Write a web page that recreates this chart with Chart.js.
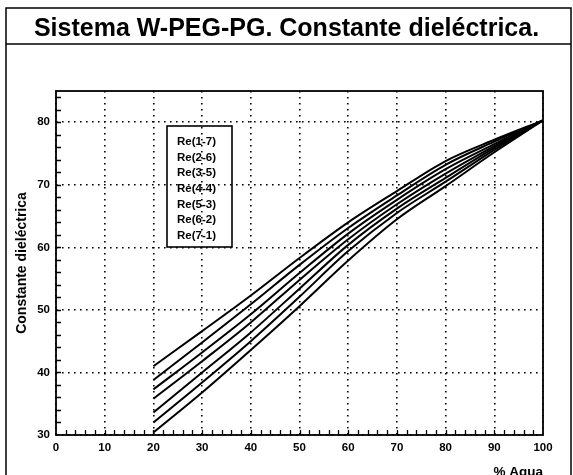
<!DOCTYPE html>
<html>
<head>
<meta charset="utf-8">
<script src="https://cdn.jsdelivr.net/npm/chart.js@4.4.1/dist/chart.umd.min.js"></script>
<style>
  html, body { margin: 0; padding: 0; background: #fff; overflow: hidden; }
</style>
</head>
<body>
<canvas id="chart" width="573" height="475"></canvas>
<script>
// % agua on the x axis
const waterPct = [20, 30, 40, 50, 60, 70, 80, 90, 100];

const seriesNames = ['Re(1-7)', 'Re(2-6)', 'Re(3-5)', 'Re(4-4)', 'Re(5-3)', 'Re(6-2)', 'Re(7-1)'];

// constante dieléctrica
const re17 = [41.0, 46.6, 52.3, 58.3, 64.0, 69.0, 73.8, 77.2, 80.3];
const re26 = [38.8, 44.8, 50.9, 57.2, 63.1, 68.3, 73.2, 76.9, 80.3];
const re35 = [37.3, 43.2, 49.3, 55.9, 62.2, 67.6, 72.5, 76.5, 80.3];
const re44 = [35.8, 41.8, 48.0, 54.8, 61.3, 66.9, 71.8, 76.2, 80.3];
const re53 = [33.6, 40.0, 46.4, 53.4, 60.4, 66.2, 71.1, 75.9, 80.3];
const re62 = [32.0, 38.4, 45.0, 52.1, 59.4, 65.5, 70.5, 75.6, 80.3];
const re71 = [30.4, 36.8, 43.6, 50.6, 57.9, 64.5, 69.8, 75.2, 80.3];

const seriesValues = [re17, re26, re35, re44, re53, re62, re71];

const xTicks = [0, 10, 20, 30, 40, 50, 60, 70, 80, 90, 100];
const yTicks = [30, 40, 50, 60, 70, 80];

const FONT = "'Liberation Sans', Arial, sans-serif";

// outer frame, header line, plot box and the little inward ticks
const framePlugin = {
  id: 'frame',
  beforeDraw(chart) {
    const ctx = chart.ctx;
    ctx.save();
    ctx.fillStyle = '#fff';
    ctx.fillRect(0, 0, chart.width, chart.height);
    ctx.strokeStyle = '#000';
    ctx.lineWidth = 1.5;
    ctx.strokeRect(6, 8, 565, 480);
    ctx.beginPath();
    ctx.moveTo(6, 44);
    ctx.lineTo(571, 44);
    ctx.stroke();
    ctx.restore();
  },
  afterDraw(chart) {
    const ctx = chart.ctx;
    const a = chart.chartArea;
    const xs = chart.scales.x;
    const ys = chart.scales.y;
    ctx.save();
    ctx.strokeStyle = '#000';
    ctx.lineWidth = 1.8;
    ctx.strokeRect(a.left, a.top, a.right - a.left, a.bottom - a.top);
    ctx.lineWidth = 1.3;
    ctx.beginPath();
    for (let v = 32; v <= 84; v += 2) {
      const y = Math.round(ys.getPixelForValue(v)) + 0.5;
      ctx.moveTo(a.left, y);
      ctx.lineTo(a.left + 5, y);
    }
    for (let v = 2; v < 100; v += 2) {
      const x = Math.round(xs.getPixelForValue(v)) + 0.5;
      ctx.moveTo(x, a.bottom);
      ctx.lineTo(x, a.bottom - 5);
    }
    ctx.stroke();
    ctx.restore();
  }
};

// boxed legend inside the plot, text only
const boxLegendPlugin = {
  id: 'boxLegend',
  afterDatasetsDraw(chart) {
    const ctx = chart.ctx;
    const names = chart.data.datasets.map((d) => d.label);
    ctx.save();
    ctx.strokeStyle = '#000';
    ctx.lineWidth = 1.6;
    ctx.strokeRect(167, 126, 65, 121);
    ctx.fillStyle = '#000';
    ctx.font = 'bold 11.5px ' + FONT;
    ctx.textBaseline = 'middle';
    ctx.textAlign = 'left';
    names.forEach((name, i) => {
      ctx.fillText(name, 177, 142 + i * 15.6);
    });
    ctx.restore();
  }
};

const data = {
  labels: waterPct,
  datasets: seriesNames.map((name, i) => ({
    label: name,
    data: waterPct.map((x, j) => ({ x: x, y: seriesValues[i][j] })),
    borderColor: '#000',
    borderWidth: 2,
    pointRadius: 0,
    fill: false,
    cubicInterpolationMode: 'monotone'
  }))
};

const gridOpts = {
  color: '#000',
  lineWidth: 1.6,
  drawTicks: false
};

const options = {
  responsive: false,
  animation: false,
  devicePixelRatio: 1,
  layout: {
    padding: { top: 0, right: 13, bottom: 0, left: 13 }
  },
  plugins: {
    legend: { display: false },
    tooltip: { enabled: false },
    title: {
      display: true,
      text: 'Sistema W-PEG-PG. Constante dieléctrica.',
      color: '#000',
      font: { family: FONT, size: 25, weight: 'bold', lineHeight: 1.2 },
      padding: { top: 14, bottom: 47 }
    }
  },
  scales: {
    x: {
      type: 'linear',
      min: 0,
      max: 100,
      afterBuildTicks: (scale) => {
        scale.ticks = xTicks.map((v) => ({ value: v }));
      },
      afterFit: (scale) => { scale.height = 40; },
      grid: gridOpts,
      border: { display: false, dash: [1.6, 4.4] },
      ticks: {
        color: '#000',
        padding: 6,
        maxRotation: 0,
        font: { family: FONT, size: 11.5, weight: 'bold' }
      },
      title: {
        display: true,
        text: '% Agua',
        align: 'end',
        color: '#000',
        font: { family: FONT, size: 13.5, weight: 'bold', lineHeight: 1.2 },
        padding: { top: 0, bottom: -5 }
      }
    },
    y: {
      min: 30,
      max: 85,
      afterBuildTicks: (scale) => {
        scale.ticks = yTicks.map((v) => ({ value: v }));
      },
      afterFit: (scale) => { scale.width = 43; },
      grid: gridOpts,
      border: { display: false, dash: [1.6, 4.4] },
      ticks: {
        color: '#000',
        padding: 6,
        font: { family: FONT, size: 11.5, weight: 'bold' }
      },
      title: {
        display: true,
        text: 'Constante dieléctrica',
        color: '#000',
        font: { family: FONT, size: 14, weight: 'bold', lineHeight: 1.2 },
        padding: { top: 1, bottom: 0 }
      }
    },
    // empty spacer on the right so the plot ends where the original does
    yRight: {
      position: 'right',
      min: 30,
      max: 85,
      afterFit: (scale) => { scale.width = 17; },
      grid: { display: false },
      border: { display: false },
      ticks: { display: false }
    }
  }
};

const chart = new Chart(document.getElementById('chart'), {
  type: 'line',
  data,
  options,
  plugins: [framePlugin, boxLegendPlugin]
});
</script>
</body>
</html>
